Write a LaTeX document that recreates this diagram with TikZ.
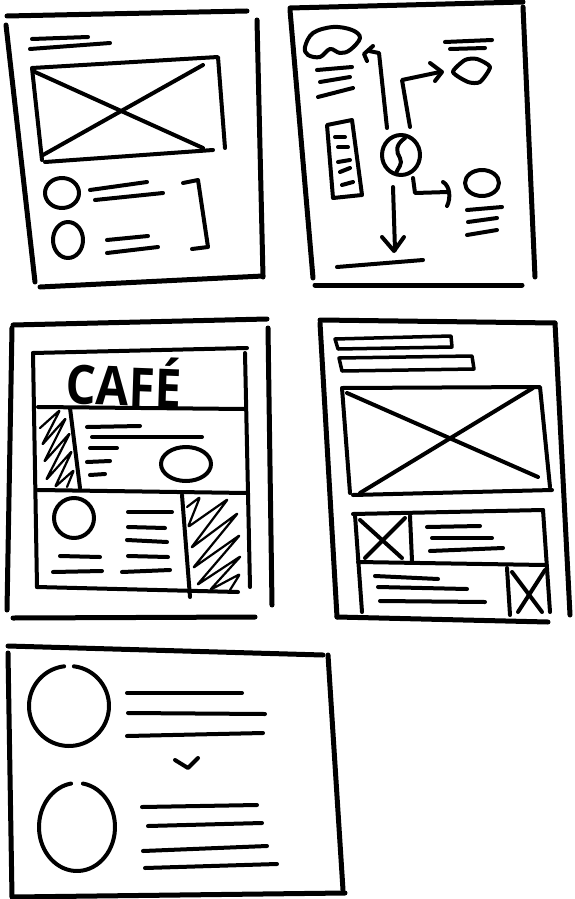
\documentclass[tikz,border=0pt]{standalone}
\usepackage{fontspec}
\newfontfamily\handfont{Open Sans}
\begin{document}
\begin{tikzpicture}[x=1pt,y=-1pt,
  frame/.style={line width=5pt,line cap=round,line join=round},
  ln/.style={line width=4pt,line cap=round,line join=round},
  hatch/.style={line width=2.2pt,line cap=round,line join=round,rounded corners=2pt}]
\useasboundingbox[fill=white] (0,0) rectangle (574,899);

% ---------- Panel 1 ----------
\draw[frame] (7,16) -- (247,11);
\draw[frame] (6,25) -- (35,282);
\draw[frame] (257,20) -- (263,277);
\draw[frame] (40,287) -- (263,276);
\draw[ln] (32,39) -- (88,37);
\draw[ln] (30,49) -- (110,43);
\draw[ln] (42,160) -- (32,68) -- (218,57) -- (225,148);
\draw[ln] (45,162) -- (213,150);
\draw[ln] (35,72) -- (203,148);
\draw[ln] (43,155) -- (203,65);
\draw[ln] (62,193) ellipse [x radius=17, y radius=15];
\draw[ln] (68,240) ellipse [x radius=15, y radius=18];
\draw[ln] (90,190) -- (147,182);
\draw[ln] (95,200) -- (163,193);
\draw[ln] (107,240) -- (148,236);
\draw[ln] (107,253) -- (158,247);
\draw[ln] (183,183) -- (198,180) -- (208,247) -- (192,249);

% ---------- Panel 2 ----------
\draw[frame] (290,8) -- (523,2);
\draw[frame] (290,10) -- (313,278);
\draw[frame] (523,7) -- (535,277);
\draw[frame] (315,285) -- (522,285);
\draw[ln] plot[smooth cycle, tension=0.6] coordinates {(305,47) (313,33) (333,27) (352,30) (360,38) (350,50) (340,53) (330,49) (320,57) (308,55)};
\draw[ln] (317,70) -- (352,67);
\draw[ln] (320,82) -- (350,77);
\draw[ln] (318,97) -- (353,88);
\draw[ln] (445,42) -- (492,40);
\draw[ln] (450,49) -- (485,48);
\draw[ln] plot[smooth cycle, tension=0.4] coordinates {(453,72) (465,60) (477,59) (490,67) (480,82) (468,82)};
\draw[ln] (327,125) -- (352,120) -- (362,195) -- (333,198) -- cycle;
\draw[ln] (335,137) -- (345,137);
\draw[ln] (338,147) -- (348,147);
\draw[ln] (338,162) -- (350,160);
\draw[ln] (340,172) -- (350,168);
\draw[ln] (342,185) -- (353,182);
\draw[ln] (401,155) ellipse [x radius=19, y radius=20];
\draw[ln] (405,138) .. controls (395,145) and (396,152) .. (400,158) .. controls (403,164) and (398,168) .. (396,173);
\draw[ln] (387,128) -- (379,53) -- (369,51);
\draw[ln] (373,46) -- (364,54) -- (367,61);
\draw[ln] (410,127) -- (402,80) -- (440,72);
\draw[ln] (430,63) -- (442,72) -- (435,81);
\draw[ln] (393,187) -- (395,250);
\draw[ln] (382,237) -- (394,251) -- (404,237);
\draw[ln] (413,178) -- (415,193) -- (448,192);
\draw[ln] (443,182) .. controls (450,186) and (451,198) .. (447,206);
\draw[ln] (482,183) ellipse [x radius=17, y radius=13];
\draw[ln] (467,210) -- (502,207);
\draw[ln] (468,222) -- (497,218);
\draw[ln] (467,235) -- (497,230);
\draw[ln] (337,267) -- (423,260);

% ---------- Panel 3 ----------
\draw[frame] (13,325) -- (267,319);
\draw[frame] (12,328) -- (7,610);
\draw[frame] (268,328) -- (272,605);
\draw[frame] (13,618) -- (255,617);
\draw[ln] (33,353) -- (247,348);
\draw[ln] (33,353) -- (37,587);
\draw[ln] (245,353) -- (250,587);
\draw[ln] (37,587) -- (238,592);
\draw[ln] (38,407) -- (245,409);
\node[inner sep=0pt, xscale=0.88, rotate=-2] (cafe) at (124,381) {\handfont\bfseries\fontsize{54}{54}\selectfont CAFÉ};
\draw[ln] (38,490) -- (247,493);
\draw[ln] (70,408) -- (80,488);
\draw[hatch] (40,428) -- (60,410) -- (42,445) -- (66,418) -- (44,462) -- (70,433) -- (46,480) -- (72,451) -- (55,487) -- (74,470) -- (67,487);
\draw[ln] (87,427) -- (140,426);
\draw[ln] (92,437) -- (202,437);
\draw[ln] (90,448) -- (117,448);
\draw[ln] (87,462) -- (110,461);
\draw[ln] (90,475) -- (105,474);
\draw[ln] (186,464) ellipse [x radius=25, y radius=17];
\draw[ln] (182,495) -- (190,597);
\draw[hatch] (187,507) -- (200,497) -- (188,527) -- (228,499) -- (191,548) -- (238,513) -- (193,568) -- (240,535) -- (197,585) -- (241,556) -- (210,590) -- (240,574) -- (230,590);
\draw[ln] (74,518) circle [radius=20];
\draw[ln] (60,556) -- (100,557);
\draw[ln] (53,572) -- (102,571);
\draw[ln] (128,512) -- (172,512);
\draw[ln] (128,527) -- (165,528);
\draw[ln] (127,540) -- (167,542);
\draw[ln] (128,556) -- (168,557);
\draw[ln] (122,572) -- (170,570);

% ---------- Panel 4 ----------
\draw[frame] (320,320) -- (555,323);
\draw[frame] (320,323) -- (337,617);
\draw[frame] (555,323) -- (570,615);
\draw[frame] (337,617) -- (548,622);
\draw[ln, line width=3.5pt] (335,339) -- (451,336) -- (452,347) -- (338,349) -- cycle;
\draw[ln, line width=3.5pt] (339,358) -- (472,356) -- (474,369) -- (342,371) -- cycle;
\draw[ln] (350,493) -- (342,388) -- (540,387) -- (550,487);
\draw[ln] (353,495) -- (552,490);
\draw[ln] (347,393) -- (538,477);
\draw[ln] (360,493) -- (533,388);
\draw[ln] (353,514) -- (543,510);
\draw[ln] (355,515) -- (362,612);
\draw[ln] (543,510) -- (550,612);
\draw[ln] (410,516) -- (412,561);
\draw[ln] (358,562) -- (545,565);
\draw[ln] (360,520) -- (402,558);
\draw[ln] (365,558) -- (405,518);
\draw[ln] (427,527) -- (480,526);
\draw[ln] (432,538) -- (492,538);
\draw[ln] (430,551) -- (503,548);
\draw[ln] (375,576) -- (438,579);
\draw[ln] (378,587) -- (467,589);
\draw[ln] (380,601) -- (485,602);
\draw[ln] (507,568) -- (510,615);
\draw[ln] (512,572) -- (542,612);
\draw[ln] (518,612) -- (545,570);

% ---------- Panel 5 ----------
\draw[frame] (8,646) -- (323,655);
\draw[frame] (8,653) -- (12,897);
\draw[frame] (328,655) -- (343,890);
\draw[frame] (13,897) -- (345,893);
\draw[ln] (69,706) ++(277:40) arc[start angle=277, end angle=623, radius=40];
\draw[ln] (127,693) -- (242,693);
\draw[ln] (128,713) -- (265,714);
\draw[ln] (127,736) -- (263,733);
\draw[ln] (175,760) -- (188,768) -- (198,758);
\draw[ln] (77,827) ++(279:{38 and 44}) arc[start angle=279, end angle=621, x radius=38, y radius=44];
\draw[ln] (142,807) -- (257,805);
\draw[ln] (148,826) -- (262,823);
\draw[ln] (143,851) -- (267,846);
\draw[ln] (145,868) -- (277,864);
\end{tikzpicture}
\end{document}
